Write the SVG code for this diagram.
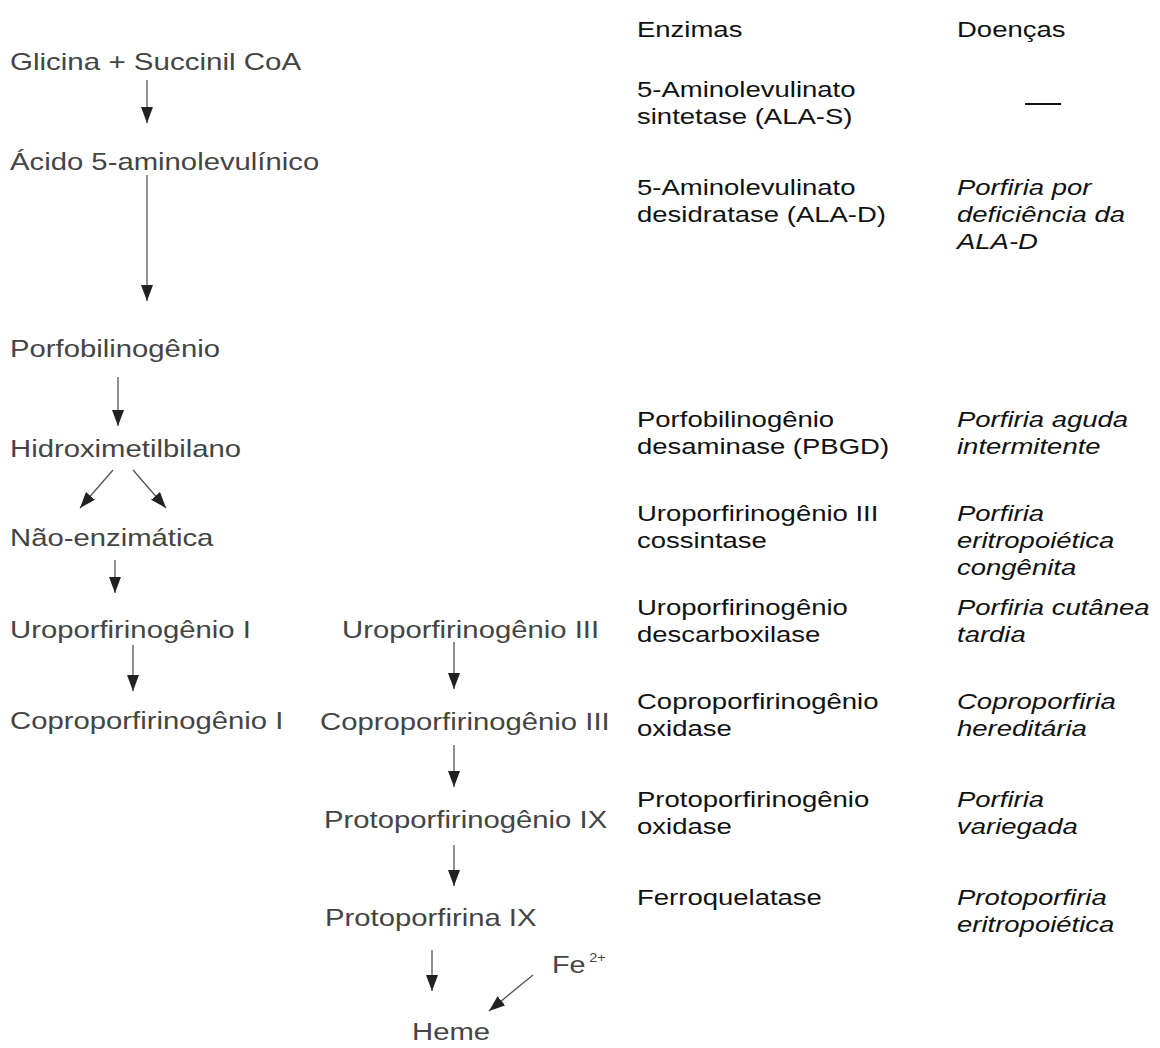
<svg xmlns="http://www.w3.org/2000/svg" width="1160" height="1048" viewBox="0 0 1160 1048">
<style>
.l{font-family:"Liberation Sans",Arial,sans-serif;font-size:24px;fill:#444}
.r{font-family:"Liberation Sans",Arial,sans-serif;font-size:22px;fill:#111}
.i{font-style:italic}
.sup{font-family:"Liberation Sans",Arial,sans-serif;font-size:12px;fill:#444}
.c{stroke:#555;stroke-width:1.3;fill:none;marker-end:url(#ah)}
</style>
<defs>
<marker id="ah" markerUnits="userSpaceOnUse" markerWidth="16" markerHeight="12" refX="16" refY="6" orient="auto">
<path d="M0,0 L16,6 L0,12 z" fill="#222"/>
</marker>
</defs>
<rect width="1160" height="1048" fill="#fff"/>
<g id="connectors">
<line class="c" x1="147" y1="80" x2="147" y2="123"/>
<line class="c" x1="147" y1="175" x2="147" y2="301"/>
<line class="c" x1="118" y1="377" x2="118" y2="426"/>
<line class="c" x1="113" y1="470" x2="80" y2="508"/>
<line class="c" x1="133" y1="470" x2="166" y2="508"/>
<line class="c" x1="115" y1="560" x2="115" y2="593"/>
<line class="c" x1="133" y1="645" x2="133" y2="691"/>
<line class="c" x1="454" y1="642" x2="454" y2="689"/>
<line class="c" x1="454" y1="745" x2="454" y2="787"/>
<line class="c" x1="454" y1="845" x2="454" y2="886"/>
<line class="c" x1="432" y1="950" x2="432" y2="991"/>
<line class="c" x1="533" y1="975" x2="489" y2="1011"/>
</g>
<g id="n-glicina" transform="translate(10,70) scale(1.23,1)"><text class="l">Glicina + Succinil CoA</text></g>
<g id="n-ala" transform="translate(10,170) scale(1.22,1)"><text class="l">Ácido 5-aminolevulínico</text></g>
<g id="n-pbg" transform="translate(10,357) scale(1.22,1)"><text class="l">Porfobilinogênio</text></g>
<g id="n-hmb" transform="translate(10,457) scale(1.22,1)"><text class="l">Hidroximetilbilano</text></g>
<g id="n-naoenz" transform="translate(10,546) scale(1.22,1)"><text class="l">Não-enzimática</text></g>
<g id="n-uro1" transform="translate(10,638) scale(1.22,1)"><text class="l">Uroporfirinogênio I</text></g>
<g id="n-uro3" transform="translate(342,638) scale(1.22,1)"><text class="l">Uroporfirinogênio III</text></g>
<g id="n-copro1" transform="translate(10,729) scale(1.22,1)"><text class="l">Coproporfirinogênio I</text></g>
<g id="n-copro3" transform="translate(320,730) scale(1.22,1)"><text class="l">Coproporfirinogênio III</text></g>
<g id="n-protogen" transform="translate(324,828) scale(1.22,1)"><text class="l">Protoporfirinogênio IX</text></g>
<g id="n-proto" transform="translate(325,926) scale(1.22,1)"><text class="l">Protoporfirina IX</text></g>
<g id="n-fe" transform="translate(552,973) scale(1.2,1)"><text class="l">Fe</text><text class="sup" x="31" y="-11">2+</text></g>
<g id="n-heme" transform="translate(412,1040) scale(1.22,1)"><text class="l">Heme</text></g>

<g id="h-enzimas" transform="translate(637,37) scale(1.25,1)"><text class="r">Enzimas</text></g>
<g id="h-doencas" transform="translate(957,37) scale(1.25,1)"><text class="r">Doenças</text></g>

<g id="e-alas" transform="translate(637,97) scale(1.25,1)"><text class="r">5-Aminolevulinato</text><text class="r" y="27">sintetase (ALA-S)</text></g>
<g id="d-alas" transform="translate(1025,104)"><line x1="0" y1="0" x2="36" y2="0" stroke="#111" stroke-width="2"/></g>

<g id="e-alad" transform="translate(637,195) scale(1.25,1)"><text class="r">5-Aminolevulinato</text><text class="r" y="27">desidratase (ALA-D)</text></g>
<g id="d-alad" transform="translate(957,195) scale(1.25,1)"><text class="r i">Porfiria por</text><text class="r i" y="27">deficiência da</text><text class="r i" y="54">ALA-D</text></g>

<g id="e-pbgd" transform="translate(637,427) scale(1.25,1)"><text class="r">Porfobilinogênio</text><text class="r" y="27">desaminase (PBGD)</text></g>
<g id="d-pbgd" transform="translate(957,427) scale(1.25,1)"><text class="r i">Porfiria aguda</text><text class="r i" y="27">intermitente</text></g>

<g id="e-uros" transform="translate(637,521) scale(1.25,1)"><text class="r">Uroporfirinogênio III</text><text class="r" y="27">cossintase</text></g>
<g id="d-uros" transform="translate(957,521) scale(1.25,1)"><text class="r i">Porfiria</text><text class="r i" y="27">eritropoiética</text><text class="r i" y="54">congênita</text></g>

<g id="e-urod" transform="translate(637,615) scale(1.25,1)"><text class="r">Uroporfirinogênio</text><text class="r" y="27">descarboxilase</text></g>
<g id="d-urod" transform="translate(957,615) scale(1.25,1)"><text class="r i">Porfiria cutânea</text><text class="r i" y="27">tardia</text></g>

<g id="e-cpox" transform="translate(637,709) scale(1.25,1)"><text class="r">Coproporfirinogênio</text><text class="r" y="27">oxidase</text></g>
<g id="d-cpox" transform="translate(957,709) scale(1.25,1)"><text class="r i">Coproporfiria</text><text class="r i" y="27">hereditária</text></g>

<g id="e-ppox" transform="translate(637,807) scale(1.25,1)"><text class="r">Protoporfirinogênio</text><text class="r" y="27">oxidase</text></g>
<g id="d-ppox" transform="translate(957,807) scale(1.25,1)"><text class="r i">Porfiria</text><text class="r i" y="27">variegada</text></g>

<g id="e-fech" transform="translate(637,905) scale(1.25,1)"><text class="r">Ferroquelatase</text></g>
<g id="d-fech" transform="translate(957,905) scale(1.25,1)"><text class="r i">Protoporfiria</text><text class="r i" y="27">eritropoiética</text></g>
</svg>
